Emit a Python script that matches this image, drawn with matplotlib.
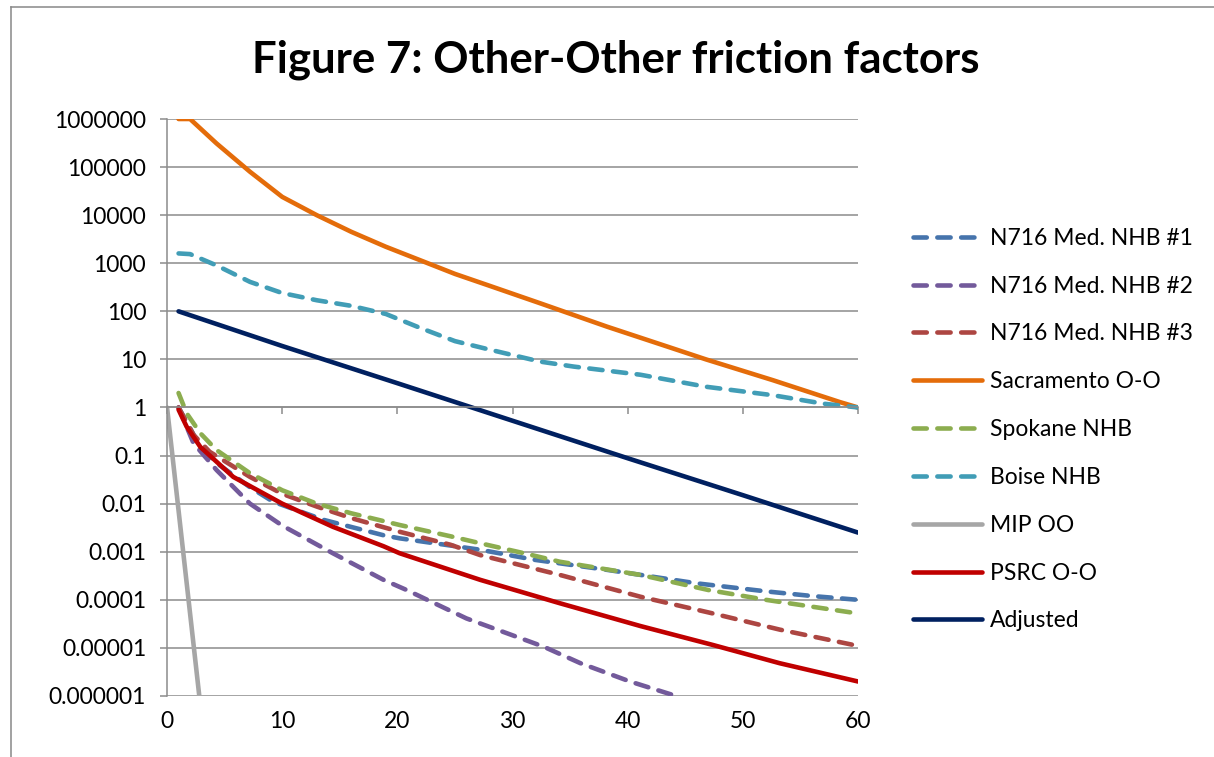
# Figure 7: Other-Other friction factors (log scale chart)

import numpy as np
import matplotlib
matplotlib.use("Agg")
import matplotlib.pyplot as plt
from matplotlib.lines import Line2D

plt.rcParams['font.family'] = ['Lato', 'DejaVu Sans']

# ---- data ----
n716_1_x = [1, 1.7, 2.9, 4.3, 7.2, 9.2, 13.6, 18.8, 20.2, 27.2, 31.9, 38.2, 46, 52, 56, 60]
n716_1_y = [1.0, 0.5, 0.15, 0.07, 0.022, 0.011, 0.0046, 0.0022, 0.0019, 0.0011, 6.8e-4, 4.2e-4,
            2.2e-4, 1.5e-4, 1.2e-4, 1.0e-4]

n716_2_x = [1, 2.3, 4.3, 7.2, 10, 14.4, 18.8, 20.8, 26, 32.7, 35.9, 40.2, 44.2]
n716_2_y = [1.0, 0.18, 0.05, 0.010, 0.0035, 9.3e-4, 2.6e-4, 1.6e-4, 4.1e-5, 1.06e-5, 4.8e-6,
            2e-6, 1e-6]

n716_3_x = [1, 2.3, 3.7, 7.2, 10, 13, 16, 20.2, 24.6, 27.2, 34.1, 41.1, 47.4, 53.2, 60]
n716_3_y = [1.0, 0.27, 0.12, 0.036, 0.016, 0.0087, 0.005, 0.0026, 0.0014, 8.5e-4, 3.3e-4,
            1.16e-4, 5.2e-5, 2.4e-5, 1.1e-5]

sacramento_x = [1, 2, 4.3, 7.2, 10, 13, 16, 19, 22, 25, 28, 32.4, 38.2, 43.9, 46.8, 52.6, 58.4, 60]
sacramento_y = [1e6, 1e6, 3.1e5, 8e4, 2.4e4, 1e4, 4.5e3, 2.2e3, 1.15e3, 600, 340, 147, 48, 17,
                10, 3.7, 1.3, 1.0]

spokane_x = [1, 1.7, 2.9, 4.3, 7.2, 10, 13, 16, 20.2, 24.6, 27.2, 31, 34.1, 41.1, 47, 52, 56, 60]
spokane_y = [2.0, 0.76, 0.29, 0.13, 0.043, 0.019, 0.010, 0.0063, 0.0036, 0.0021, 0.0015, 9.3e-4,
             6.2e-4, 3.3e-4, 1.6e-4, 1.0e-4, 7.2e-5, 5.2e-5]

boise_x = [1, 2, 4.3, 7.2, 10, 13, 16, 19, 22, 25, 28, 32.4, 35.3, 41.1, 46.8, 52.6, 57, 60]
boise_y = [1600, 1550, 900, 410, 240, 170, 130, 88, 45, 24, 16, 9.0, 7.1, 4.8, 2.7, 1.8, 1.2, 1.0]

mip_x = [0, 2.8]
mip_y = [1.0, 1e-6]

psrc_x = [1, 1.7, 2.9, 5.75, 10, 14.4, 18.8, 20.2, 27.2, 34.1, 41.1, 47.4, 53.2, 60]
psrc_y = [0.9, 0.4, 0.15, 0.036, 0.010, 0.0033, 0.0013, 9.3e-4, 2.6e-4, 8.5e-5, 2.85e-5,
          1.15e-5, 4.8e-6, 2e-6]

adjusted_x = [1, 10, 20, 30, 40, 50, 60]
adjusted_y = [100, 19, 3.2, 0.53, 0.088, 0.015, 0.0025]

y_ticks = [1e6, 1e5, 1e4, 1e3, 1e2, 10, 1, 0.1, 0.01, 0.001, 1e-4, 1e-5, 1e-6]
y_tick_labels = ['1000000', '100000', '10000', '1000', '100', '10', '1', '0.1', '0.01',
                 '0.001', '0.0001', '0.00001', '0.000001']
x_ticks = [0, 10, 20, 30, 40, 50, 60]

series = [
    ('N716 Med. NHB #1', n716_1_x, n716_1_y, '#4674AC', True),
    ('N716 Med. NHB #2', n716_2_x, n716_2_y, '#735A9B', True),
    ('N716 Med. NHB #3', n716_3_x, n716_3_y, '#AD4642', True),
    ('Sacramento O-O', sacramento_x, sacramento_y, '#E46C0A', False),
    ('Spokane NHB', spokane_x, spokane_y, '#8CAD4F', True),
    ('Boise NHB', boise_x, boise_y, '#419DB6', True),
    ('MIP OO', mip_x, mip_y, '#A6A6A6', False),
    ('PSRC O-O', psrc_x, psrc_y, '#C00000', False),
    ('Adjusted', adjusted_x, adjusted_y, '#002060', False),
]

grid_col = '#8C8C8C'

fig = plt.figure(figsize=(12.14, 7.57), dpi=100)
ax = fig.add_axes([0.1376, 0.0806, 0.5692, 0.7622])

handles = []
for name, xs, ys, col, dashed in series:
    if dashed:
        ln, = ax.plot(xs, ys, color=col, lw=3.3, dashes=(2.9, 2.3),
                      dash_capstyle='round', label=name)
    else:
        ln, = ax.plot(xs, ys, color=col, lw=3.3, solid_capstyle='round', label=name)
    handles.append(ln)

ax.set_yscale('log')
ax.set_ylim(1e-6, 1e6)
ax.set_xlim(0, 60)
ax.set_yticks(y_ticks)
ax.set_yticklabels(y_tick_labels)
ax.minorticks_off()
ax.yaxis.grid(True, color=grid_col, lw=1.1)
ax.set_axisbelow(True)

for s in ['top', 'right']:
    ax.spines[s].set_visible(False)
ax.spines['left'].set_color(grid_col)
ax.spines['left'].set_linewidth(1.1)
ax.spines['bottom'].set_position(('data', 1))
ax.spines['bottom'].set_color(grid_col)
ax.spines['bottom'].set_linewidth(1.1)

ax.tick_params(axis='y', direction='out', length=5, width=1.1, color=grid_col,
               labelsize=16.5, pad=10, labelcolor='#000000')
ax.set_xticks(x_ticks)
ax.tick_params(axis='x', direction='out', length=5, width=1.1, color=grid_col,
               labelbottom=False)

# x labels sit at the bottom of the plot, not on the axis line at 1
sec = ax.secondary_xaxis('bottom')
sec.set_xticks(x_ticks)
sec.spines['bottom'].set_visible(False)
sec.tick_params(length=0, labelsize=16.5, pad=11)

fig.text(0.507, 0.921, 'Figure 7: Other-Other friction factors', ha='center', va='center',
         fontsize=31.5, fontweight='bold')

fig.legend(handles=handles, loc='upper left', bbox_to_anchor=(0.752, 0.699), frameon=False,
           fontsize=16.5, handlelength=3.0, handletextpad=0.35, labelspacing=1.17,
           borderpad=0, borderaxespad=0)

# outer chart frame (top and left edges visible)
fig.add_artist(Line2D([0.009, 0.009], [0.0, 0.991], color='#888888', lw=1.1))
fig.add_artist(Line2D([0.009, 1.0], [0.991, 0.991], color='#888888', lw=1.1))

fig.savefig('out.png', dpi=100)
